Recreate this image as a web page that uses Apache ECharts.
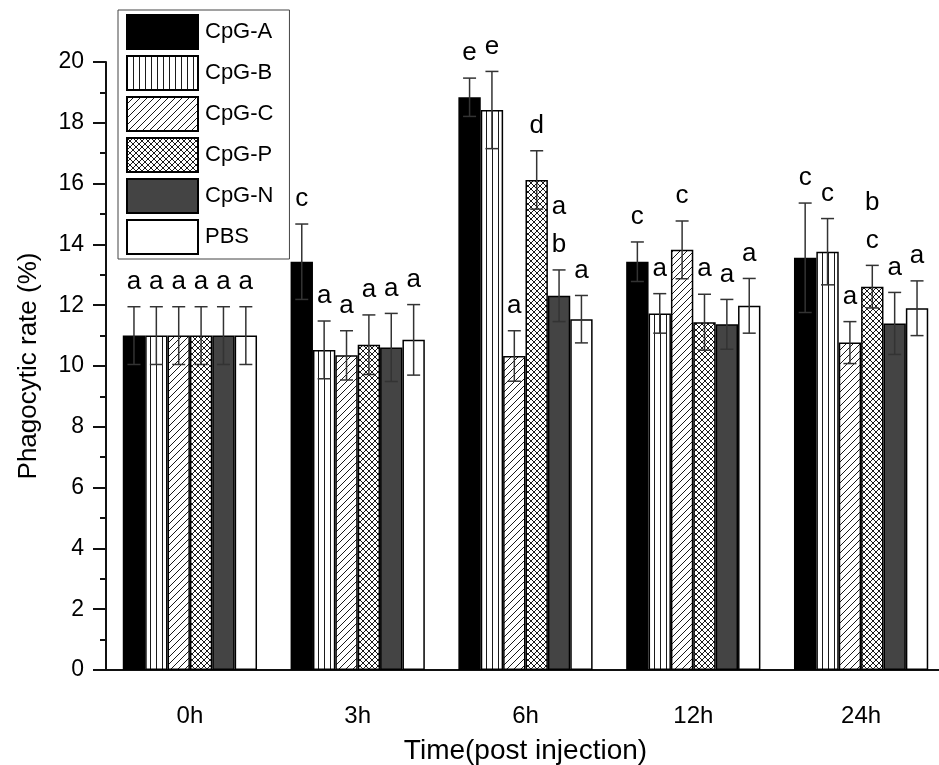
<!DOCTYPE html>
<html lang="en">
<head>
    <meta charset="UTF-8">
    <title>Phagocytic rate</title>
    <style>
        body { margin: 0; padding: 0; background: #fff; }
        #main { width: 939px; height: 765px; }
    </style>
</head>
<body>
    <div id="main"></div>
    <script src="https://cdn.jsdelivr.net/npm/echarts@6/dist/echarts.min.js"></script>
    <script>
        // values
        var categories = ['0h', '3h', '6h', '12h', '24h'];
        var seriesNames = ['CpG-A', 'CpG-B', 'CpG-C', 'CpG-P', 'CpG-N', 'PBS'];

        var cpgA = [11.0, 13.43, 18.84, 13.43, 13.56];
        var cpgB = [11.0, 10.53, 18.42, 11.73, 13.76];
        var cpgC = [11.0, 10.35, 10.33, 13.82, 10.77];
        var cpgP = [11.0, 10.70, 16.12, 11.44, 12.61];
        var cpgN = [11.0, 10.61, 12.31, 11.37, 11.40];
        var pbs = [11.0, 10.86, 11.54, 11.98, 11.90];

        var errA = [0.95, 1.24, 0.63, 0.65, 1.80];
        var errB = [0.95, 0.95, 1.27, 0.65, 1.09];
        var errC = [0.95, 0.81, 0.83, 0.95, 0.69];
        var errP = [0.95, 0.98, 0.96, 0.92, 0.70];
        var errN = [0.95, 1.12, 0.85, 0.82, 1.02];
        var errPBS = [0.95, 1.16, 0.78, 0.90, 0.90];

        // significance letters (upper letter first when two are stacked)
        var lettersA = ['a', 'c', 'e', 'c', 'c'];
        var lettersB = ['a', 'a', 'e', 'a', 'c'];
        var lettersC = ['a', 'a', 'a', 'c', 'a'];
        var lettersP = ['a', 'a', 'd', 'a', 'b\nc'];
        var lettersN = ['a', 'a', 'a\nb', 'a', 'a'];
        var lettersPBS = ['a', 'a', 'a', 'a', 'a'];

        var yTicks = [0, 20, 2];

        var values = [cpgA, cpgB, cpgC, cpgP, cpgN, pbs];
        var errors = [errA, errB, errC, errP, errN, errPBS];
        var letters = [lettersA, lettersB, lettersC, lettersP, lettersN, lettersPBS];

        var FONT = '"Liberation Sans", Arial, sans-serif';

        // hatch patterns
        function makePattern(size, draw) {
            var c = document.createElement('canvas');
            c.width = size;
            c.height = size;
            var ctx = c.getContext('2d');
            ctx.fillStyle = '#fff';
            ctx.fillRect(0, 0, size, size);
            ctx.strokeStyle = '#1a1a1a';
            ctx.lineWidth = 1;
            draw(ctx, size);
            return { image: c, repeat: 'repeat' };
        }
        var vertPat = makePattern(6, function (ctx, s) {
            ctx.beginPath();
            ctx.moveTo(0.5, 0); ctx.lineTo(0.5, s);
            ctx.stroke();
        });
        var diagPat = makePattern(7, function (ctx, s) {
            ctx.beginPath();
            ctx.moveTo(0, s); ctx.lineTo(s, 0);
            ctx.moveTo(-1, 1); ctx.lineTo(1, -1);
            ctx.moveTo(s - 1, s + 1); ctx.lineTo(s + 1, s - 1);
            ctx.stroke();
        });
        var crossPat = makePattern(6, function (ctx, s) {
            ctx.beginPath();
            ctx.moveTo(0, s); ctx.lineTo(s, 0);
            ctx.moveTo(0, 0); ctx.lineTo(s, s);
            ctx.moveTo(-1, 1); ctx.lineTo(1, -1);
            ctx.moveTo(s - 1, s + 1); ctx.lineTo(s + 1, s - 1);
            ctx.moveTo(-1, s - 1); ctx.lineTo(1, s + 1);
            ctx.moveTo(s - 1, -1); ctx.lineTo(s + 1, 1);
            ctx.stroke();
        });
        var fills = ['#000000', vertPat, diagPat, crossPat, '#444444', '#ffffff'];

        var nGroups = seriesNames.length;
        var catGap = 0.2;

        var series = [];
        for (var i = 0; i < nGroups; i++) {
            series.push({
                name: seriesNames[i],
                type: 'bar',
                xAxisIndex: 0,
                barGap: '0%',
                barCategoryGap: (catGap * 100) + '%',
                itemStyle: { color: fills[i], borderColor: '#000', borderWidth: 1.5 },
                data: values[i]
            });
        }

        // error bars + letters
        var errData = [];
        for (var s = 0; s < nGroups; s++) {
            for (var k = 0; k < categories.length; k++) {
                errData.push([k, values[s][k], s, errors[s][k], letters[s][k]]);
            }
        }
        series.push({
            type: 'custom',
            xAxisIndex: 0,
            z: 5,
            silent: true,
            encode: { x: 0, y: 1 },
            data: errData,
            renderItem: function (params, api) {
                var cat = api.value(0);
                var val = api.value(1);
                var s = api.value(2);
                var err = api.value(3);
                var txt = errData[params.dataIndex][4];
                var catW = api.size([1, 0])[0];
                var barW = catW * (1 - catGap) / nGroups;
                var c = api.coord([cat, val]);
                var x = c[0] - catW * (1 - catGap) / 2 + barW * (s + 0.5);
                var yTop = api.coord([cat, val + err])[1];
                var yBot = api.coord([cat, val - err])[1];
                var capW = 6.5;
                var ls = { stroke: '#333', lineWidth: 1.5 };
                return {
                    type: 'group',
                    children: [
                        { type: 'line', shape: { x1: x, y1: yTop, x2: x, y2: yBot }, style: ls },
                        { type: 'line', shape: { x1: x - capW, y1: yTop, x2: x + capW, y2: yTop }, style: ls },
                        { type: 'line', shape: { x1: x - capW, y1: yBot, x2: x + capW, y2: yBot }, style: ls },
                        {
                            type: 'text',
                            style: {
                                text: txt,
                                x: x,
                                y: yTop - 6,
                                align: 'center',
                                verticalAlign: 'bottom',
                                fontSize: 26,
                                lineHeight: 38,
                                fontFamily: FONT,
                                fill: '#000'
                            }
                        }
                    ]
                };
            }
        });

        var option = {
            backgroundColor: '#fff',
            animation: false,
            textStyle: { fontFamily: FONT },
            legend: {
                orient: 'vertical',
                left: 118,
                top: 10,
                padding: [4, 16, 4, 8],
                itemWidth: 71,
                itemHeight: 34,
                itemGap: 5,
                icon: 'rect',
                borderColor: '#444',
                borderWidth: 1,
                textStyle: { fontSize: 22, color: '#000', fontFamily: FONT, padding: [0, 0, 0, 2] },
                data: seriesNames
            },
            grid: { left: 106, top: 62, width: 839, height: 608, outerBoundsMode: 'none' },
            xAxis: [
                {
                    type: 'category',
                    data: categories,
                    name: 'Time(post injection)',
                    nameLocation: 'middle',
                    nameGap: 67,
                    nameTextStyle: { fontSize: 28, color: '#000', fontFamily: FONT },
                    axisLine: { lineStyle: { color: '#111', width: 2 } },
                    axisTick: { alignWithLabel: true, length: 12, lineStyle: { color: '#111', width: 2 } },
                    axisLabel: { fontSize: 24, color: '#000', margin: 34, fontFamily: FONT }
                },
                {
                    // short ticks between groups
                    type: 'category',
                    data: categories,
                    position: 'bottom',
                    axisLine: { show: false },
                    axisTick: { length: 6, lineStyle: { color: '#111', width: 2 } },
                    axisLabel: { show: false }
                }
            ],
            yAxis: {
                type: 'value',
                min: yTicks[0],
                max: yTicks[1],
                interval: yTicks[2],
                name: 'Phagocytic rate (%)',
                nameLocation: 'middle',
                nameGap: 64,
                nameTextStyle: { fontSize: 26, color: '#000', fontFamily: FONT },
                axisLine: { show: true, lineStyle: { color: '#111', width: 2 } },
                axisTick: { show: true, length: 13, lineStyle: { color: '#111', width: 2 } },
                minorTick: { show: true, splitNumber: 2, length: 6, lineStyle: { color: '#111', width: 2 } },
                axisLabel: { fontSize: 23, color: '#000', margin: 22, fontFamily: FONT },
                splitLine: { show: false }
            },
            series: series
        };

        var chart = echarts.init(document.getElementById('main'));
        chart.setOption(option);
    </script>
</body>
</html>
